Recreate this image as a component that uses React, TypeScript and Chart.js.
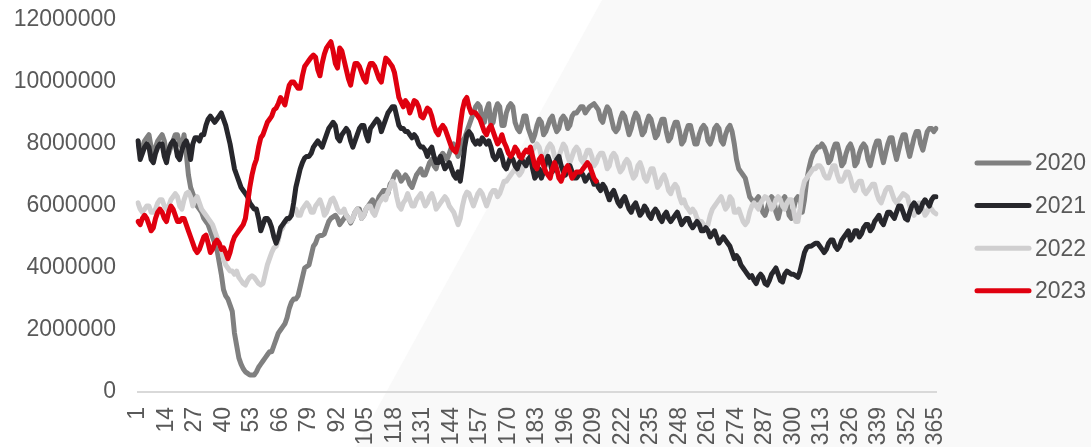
import React, { useEffect, useRef } from "react";
import { Chart, registerables } from "chart.js";

Chart.register(...registerables);

// Day-of-year categories 1..365
const dayLabels: string[] = Array.from({ length: 365 }, (_, i) => String(i + 1));

const seriesNames = ["2020", "2021", "2022", "2023"];
const seriesColors = ["#808080", "#27272c", "#d0cfd0", "#e0000f"];

// Values in millions
const s2020 = [
  8.1, 7.7, 7.9, 8.1, 8.2, 8.3, 7.9,
  7.6, 7.9, 8.1, 8.2, 8.3, 8.1, 7.7,
  7.7, 7.9, 8.1, 8.3, 8.3, 8.0, 7.9,
  8.3, 7.7, 7.0, 6.6, 6.4, 6.2, 6.0,
  5.9, 5.8, 5.6, 5.5, 5.4, 5.2, 5.0,
  4.8, 4.6, 4.2, 3.8, 3.3, 3.1, 3.0,
  2.8, 2.6, 1.9, 1.5, 1.1, 0.9, 0.75,
  0.65, 0.6, 0.55, 0.55, 0.55, 0.65, 0.8,
  0.9, 1.0, 1.1, 1.2, 1.3, 1.3, 1.5,
  1.7, 1.9, 2.0, 2.1, 2.2, 2.4, 2.7,
  2.9, 3.0, 3.0, 3.1, 3.4, 3.7, 4.0,
  4.05, 4.1, 4.4, 4.7, 4.8, 5.0, 5.05,
  5.05, 5.1, 5.3, 5.5, 5.6, 5.65, 5.7,
  5.6, 5.4, 5.5, 5.6, 5.7, 5.6, 5.45,
  5.6, 5.8, 5.9, 5.9, 5.6, 5.7, 5.9,
  6.0, 6.1, 6.2, 5.9, 6.1, 6.3, 6.4,
  6.5, 6.5, 6.4, 6.7, 6.8, 7.0, 7.1,
  7.0, 6.8, 6.9, 7.0, 6.9, 6.7, 6.6,
  6.8, 7.0, 7.1, 7.2, 7.0, 7.0, 7.2,
  7.4, 7.5, 7.3, 7.2, 7.5, 7.6, 7.7,
  7.6, 7.5, 7.7, 7.9, 8.0, 7.8, 7.6,
  7.9, 8.1, 8.2, 8.4, 8.6, 8.8, 9.0,
  9.2, 9.3, 9.2, 8.8, 8.7, 9.1, 9.3,
  8.6, 8.7, 9.1, 9.3, 9.2, 8.6, 8.6,
  9.0, 9.2, 9.3, 9.2, 8.7, 8.5, 8.4,
  8.6, 8.9, 8.9, 8.5, 8.3, 8.1, 8.3,
  8.6, 8.8, 8.7, 8.3, 8.4, 8.6, 8.8,
  8.9, 8.6, 8.4, 8.5, 8.8, 8.9, 8.8,
  8.5, 8.6, 8.9, 9.0, 9.0, 9.1, 9.2,
  9.2, 9.0, 9.1, 9.2, 9.25, 9.3, 9.2,
  9.1, 8.8, 8.7, 9.0, 9.2, 9.1, 8.8,
  8.5, 8.4, 8.5, 8.8, 9.0, 8.9, 8.6,
  8.3, 8.5, 8.8, 9.0, 8.9, 8.6, 8.3,
  8.4, 8.7, 8.9, 8.8, 8.5, 8.2, 8.3,
  8.6, 8.8, 8.8, 8.4, 8.1, 8.2, 8.5,
  8.7, 8.7, 8.4, 8.0, 8.1, 8.4, 8.6,
  8.6, 8.3, 8.0, 8.0, 8.3, 8.5, 8.6,
  8.5, 8.1, 8.0, 8.2, 8.5, 8.6, 8.5,
  8.1, 8.0, 8.3, 8.5, 8.6, 8.4, 8.0,
  7.5, 7.2, 7.1, 7.0, 6.9, 6.6, 6.3,
  6.2, 6.1, 6.2, 6.3, 6.1, 5.8, 5.7,
  5.9, 6.2, 6.3, 6.2, 5.8, 5.6, 5.9,
  6.2, 6.3, 6.1, 5.7, 5.6, 5.9, 6.2,
  6.3, 6.2, 5.8, 6.2, 6.8, 7.2, 7.5,
  7.7, 7.8, 7.9, 7.9, 8.0, 7.9, 7.7,
  7.4, 7.5, 7.8, 8.0, 8.0, 7.7, 7.3,
  7.4, 7.7, 7.9, 8.0, 7.8, 7.3, 7.4,
  7.7, 7.9, 8.0, 7.9, 7.5, 7.3, 7.6,
  7.9, 8.1, 8.1, 7.7, 7.4, 7.7, 8.0,
  8.2, 8.2, 7.8, 7.5, 7.8, 8.1, 8.3,
  8.3, 7.9, 7.6, 7.9, 8.2, 8.4, 8.4,
  8.0, 7.8, 8.1, 8.4, 8.5, 8.5, 8.4,
  8.5,
];

const s2021 = [
  8.1, 7.5, 7.7, 7.9, 8.0, 7.9, 7.5,
  7.4, 7.7, 7.9, 8.0, 8.0, 7.6, 7.4,
  7.8, 8.0, 8.1, 8.0, 7.6, 7.5, 7.8,
  8.0, 8.1, 7.9, 7.5, 8.0, 8.2, 8.2,
  8.1, 8.3, 8.3, 8.6, 8.8, 8.9, 8.8,
  8.7, 8.8, 8.9, 9.0, 8.8, 8.6, 8.3,
  8.0, 7.6, 7.2, 7.0, 6.8, 6.6, 6.5,
  6.4, 6.3, 6.1, 6.0, 5.9, 5.9, 5.6,
  5.2, 5.4, 5.6, 5.6, 5.5, 5.3, 5.0,
  4.8, 5.0, 5.3, 5.4, 5.5, 5.6, 5.6,
  5.7, 6.1, 6.6, 6.9, 7.2, 7.4, 7.55,
  7.6, 7.6, 7.7, 7.9, 8.0, 8.1, 8.0,
  7.9, 8.1, 8.3, 8.5, 8.6, 8.7, 8.6,
  8.2, 8.1, 8.3, 8.4, 8.5, 8.4, 8.1,
  7.9, 8.1, 8.3, 8.5, 8.6, 8.6, 8.3,
  8.1, 8.5, 8.6, 8.7, 8.8, 8.7, 8.4,
  8.6, 8.8, 9.0, 9.1, 9.2, 9.2, 8.9,
  8.6, 8.5, 8.5, 8.4, 8.4, 8.3, 8.2,
  8.3, 8.2, 8.0, 7.9, 7.9, 7.8, 7.6,
  7.8, 7.9, 7.6, 7.4, 7.4, 7.6, 7.4,
  7.2, 7.3, 7.4, 7.2, 7.0, 6.9, 7.1,
  6.8, 7.3, 7.9, 8.3, 8.4, 8.3, 8.1,
  8.0, 8.1, 8.0, 8.2, 8.1, 8.0, 8.1,
  7.9, 7.6, 7.5, 7.6, 7.8, 7.6, 7.3,
  7.2, 7.4, 7.6, 7.5, 7.3, 7.2, 7.4,
  7.5, 7.4, 7.3, 7.5, 7.6, 7.2, 6.9,
  7.0, 7.2, 6.9, 7.1, 7.4, 7.6, 7.4,
  7.1, 7.3, 7.5, 7.6, 7.3, 7.1, 7.0,
  7.2, 7.3, 7.1, 6.9, 6.9, 7.0, 7.1,
  7.0, 6.8, 6.9, 7.0, 6.9, 6.7, 6.8,
  6.6, 6.5, 6.7, 6.6, 6.4, 6.2, 6.4,
  6.5, 6.3, 6.1, 6.0, 6.2, 6.3, 6.1,
  5.9, 5.8, 6.0, 6.1, 5.9, 5.7, 5.8,
  6.0, 5.9, 5.7, 5.6, 5.8, 5.9, 5.8,
  5.6, 5.5, 5.7, 5.8, 5.6, 5.5, 5.6,
  5.7, 5.8, 5.6, 5.4, 5.5, 5.6, 5.6,
  5.4, 5.3, 5.4, 5.5, 5.4, 5.2, 5.2,
  5.3, 5.2, 5.0, 5.1, 5.2, 5.0, 4.8,
  4.9, 5.0, 4.9, 4.8, 4.7, 4.5, 4.3,
  4.4, 4.3, 4.1, 4.0, 3.9, 3.8, 3.7,
  3.75, 3.6, 3.5, 3.7, 3.8, 3.7, 3.5,
  3.45, 3.6, 3.8, 3.9, 4.0, 3.8, 3.6,
  3.55, 3.8, 3.9, 3.85, 3.8, 3.8, 3.75,
  3.7, 3.9, 4.2, 4.5, 4.65, 4.7, 4.7,
  4.75, 4.8, 4.8, 4.7, 4.6, 4.5, 4.6,
  4.8, 4.9, 4.9, 4.7, 4.6, 4.7, 4.9,
  5.0, 5.1, 5.2, 4.9, 5.0, 5.2, 5.2,
  5.0, 5.1, 5.3, 5.4, 5.4, 5.2, 5.3,
  5.5, 5.6, 5.7, 5.5, 5.4, 5.6, 5.8,
  5.8, 5.7, 5.6, 5.8, 6.0, 6.0, 5.8,
  5.6, 5.55, 5.8, 6.0, 6.1, 6.0, 5.8,
  5.9, 6.1, 6.2, 6.1, 6.0, 6.2, 6.3,
  6.3,
];

const s2022 = [
  6.1, 5.9, 5.8, 5.9, 6.0, 6.0, 5.8,
  5.8, 5.9, 6.1, 6.2, 6.2, 6.0, 5.9,
  6.0, 6.2, 6.3, 6.4, 6.3, 6.0, 5.9,
  6.2, 6.4, 6.45, 6.3, 6.0, 6.2, 6.3,
  6.1, 5.9, 5.8, 5.7, 5.6, 5.5, 5.4,
  5.2, 5.0, 4.8, 4.6, 4.3, 4.1, 4.0,
  3.9, 3.9, 3.8, 3.9, 3.7, 3.6, 3.5,
  3.45, 3.6, 3.7, 3.75, 3.7, 3.6, 3.5,
  3.45, 3.5, 3.8, 4.1, 4.3, 4.5, 4.65,
  4.7, 4.9, 5.2, 5.3, 5.5, 5.5, 5.6,
  5.8, 5.9, 5.9, 5.7, 5.7, 5.9, 6.0,
  6.1, 6.0, 5.8, 5.8, 6.0, 6.1, 6.2,
  6.0, 5.7, 5.8, 6.0, 6.2, 6.25, 6.1,
  5.9, 5.8, 5.8, 5.9, 5.7, 5.6, 5.5,
  5.6, 5.8, 5.9, 5.8, 5.6, 5.7, 5.9,
  6.0, 6.0, 5.8, 5.7, 5.9, 6.1, 6.2,
  6.3, 6.2, 6.45, 6.6, 6.8, 6.7, 6.3,
  6.0, 5.9, 6.1, 6.2, 6.4, 6.2, 6.0,
  6.0, 6.2, 6.3, 6.4, 6.2, 6.0, 6.1,
  6.3, 6.4, 6.2, 5.9, 6.0, 6.1, 6.2,
  6.3, 6.2, 6.0, 5.9, 5.8, 5.6, 5.4,
  5.6, 6.0, 6.3, 6.45, 6.4, 6.2, 6.0,
  6.2, 6.4, 6.5, 6.4, 6.2, 6.0, 6.2,
  6.4, 6.5, 6.5, 6.3, 6.4, 6.6, 6.8,
  6.8, 6.9, 7.0, 7.1, 7.2, 7.1, 7.0,
  7.1, 7.3, 7.5, 7.4, 7.6, 7.8, 7.9,
  8.0, 7.9, 7.6, 7.5, 7.7, 7.9, 8.0,
  7.9, 7.6, 7.4, 7.6, 7.8, 8.0, 7.9,
  7.6, 7.4, 7.6, 7.8, 7.9, 7.8, 7.5,
  7.4, 7.6, 7.8, 7.8, 7.6, 7.3, 7.4,
  7.6, 7.7, 7.7, 7.5, 7.2, 7.3, 7.6,
  7.7, 7.6, 7.3, 7.1, 7.2, 7.4, 7.5,
  7.4, 7.1, 6.9, 7.0, 7.3, 7.4, 7.2,
  6.9, 6.8, 7.0, 7.2, 7.2, 6.9, 6.6,
  6.7, 6.9, 7.0, 6.8, 6.5, 6.4, 6.6,
  6.7, 6.6, 6.3, 6.1, 6.2, 6.0, 5.9,
  5.8, 5.9, 5.8, 5.6, 5.5, 5.5, 5.4,
  5.3, 5.4, 5.7, 5.9, 6.0, 6.1, 6.2,
  6.3, 6.1, 5.9, 6.0, 6.3, 6.2, 5.8,
  5.8, 5.9, 5.7, 5.5, 5.4, 5.5, 5.8,
  6.0, 6.1, 6.0, 5.9, 6.1, 6.2, 6.3,
  6.26, 6.1, 5.9, 6.0, 6.2, 6.3, 6.2,
  6.0, 5.9, 6.1, 6.2, 6.2, 5.9, 5.5,
  5.5, 5.9, 6.5, 6.8, 6.9, 7.0, 7.1,
  7.2, 7.2, 7.3, 7.3, 7.2, 7.0, 6.9,
  6.9, 7.1, 7.3, 7.3, 7.0, 6.8, 6.8,
  6.9, 7.1, 7.1, 6.9, 6.6, 6.5, 6.7,
  6.8, 6.8, 6.5, 6.4, 6.5, 6.6, 6.7,
  6.7, 6.4, 6.2, 6.1, 6.3, 6.5, 6.6,
  6.6, 6.4, 6.2, 6.1, 6.2, 6.3, 6.4,
  6.35, 6.3, 6.0, 5.8, 5.7, 5.9, 6.1,
  6.1, 5.9, 5.7, 5.8, 6.0, 5.9, 5.8,
  5.75,
];

const s2023 = [
  5.5, 5.4, 5.6, 5.7, 5.6, 5.4, 5.2,
  5.3, 5.6, 5.8, 5.9, 5.8, 5.6, 5.5,
  5.8, 6.0, 5.9, 5.7, 5.5, 5.5, 5.6,
  5.6, 5.4, 5.2, 5.0, 4.8, 4.6, 4.5,
  4.6, 4.8, 5.0, 5.06, 4.8, 4.5, 4.6,
  4.8, 4.9, 4.8, 4.6, 4.65, 4.5, 4.3,
  4.5, 4.8, 5.0, 5.1, 5.2, 5.3, 5.4,
  5.6, 6.1, 6.6, 7.0, 7.3, 7.5, 7.9,
  8.2, 8.3, 8.5, 8.7, 8.8, 8.9, 9.1,
  9.16, 9.3, 9.5, 9.4, 9.26, 9.6, 9.9,
  10.0, 10.0, 9.9, 9.8, 9.8, 10.2, 10.5,
  10.6, 10.7, 10.8, 10.87, 10.8, 10.4, 10.2,
  10.6, 10.9, 11.1, 11.2, 11.3, 11.0, 10.6,
  10.45, 11.1, 11.0, 10.7, 10.4, 10.1, 9.9,
  10.3, 10.6, 10.6, 10.5, 10.3, 10.1, 10.0,
  10.4, 10.6, 10.6, 10.5, 10.3, 10.1, 10.0,
  10.4, 10.77, 10.7, 10.6, 10.5, 10.3, 9.9,
  9.5, 9.35, 9.2, 9.4, 9.3, 9.0, 9.2,
  9.4, 9.35, 9.2, 8.9, 8.84, 9.0, 9.16,
  9.1, 8.9, 8.6, 8.4, 8.3, 8.5, 8.6,
  8.5, 8.3, 8.1, 7.9, 7.8, 7.74, 8.0,
  8.6, 9.1, 9.4, 9.5, 9.2, 9.0, 9.03,
  9.0, 8.9, 8.8, 8.6, 8.4, 8.3, 8.5,
  8.6, 8.4, 8.2, 8.0, 8.1, 8.3, 8.06,
  7.9, 7.7, 7.6, 7.7, 7.9, 7.8, 7.6,
  7.55, 7.7, 7.8, 7.74, 7.9, 7.6, 7.3,
  7.2, 7.5, 7.6, 7.3, 7.1, 7.0, 6.9,
  7.2, 7.4, 7.2, 6.9, 6.8, 7.0, 7.2,
  7.3, 7.1, 6.9, 7.0, 7.1, 7.1, 7.1,
  7.2, 7.3, 7.4, 7.3, 7.1, 6.9, 6.8,
];

const seriesValues = [s2020, s2021, s2022, s2023];
const drawOrder = [3, 1, 2, 0]; // lower = drawn on top

const yMin = 0;
const yMax = 12000000;
const yStep = 2000000;
const xTickEvery = 13;

const FONT = "'Liberation Sans', Arial, sans-serif";
const TEXT_COLOR = "#595959";

const backgroundPlugin = {
  id: "bgShape",
  beforeDraw(chart: any) {
    const { ctx, width, height } = chart;
    ctx.save();
    ctx.fillStyle = "#ffffff";
    ctx.fillRect(0, 0, width, height);
    ctx.fillStyle = "#f9f9f9";
    ctx.beginPath();
    ctx.moveTo(602, 0);
    ctx.lineTo(width, 0);
    ctx.lineTo(width, height);
    ctx.lineTo(356, height);
    ctx.closePath();
    ctx.fill();
    ctx.restore();
  },
};

const legendPlugin = {
  id: "sideLegend",
  afterDraw(chart: any) {
    const { ctx } = chart;
    ctx.save();
    chart.data.datasets.forEach((ds: any, i: number) => {
      const y = 163 + i * 42.6;
      ctx.strokeStyle = ds.borderColor;
      ctx.lineWidth = 5;
      ctx.lineCap = "round";
      ctx.beginPath();
      ctx.moveTo(977, y);
      ctx.lineTo(1029, y);
      ctx.stroke();
      ctx.fillStyle = TEXT_COLOR;
      ctx.font = `23px ${FONT}`;
      ctx.textBaseline = "middle";
      ctx.textAlign = "left";
      ctx.fillText(ds.label, 1035, y + 1);
    });
    ctx.restore();
  },
};

export default function App() {
  const canvasRef = useRef<HTMLCanvasElement>(null);

  useEffect(() => {
    if (!canvasRef.current) return;
    const chart = new Chart(canvasRef.current, {
      type: "line",
      data: {
        labels: dayLabels,
        datasets: seriesNames.map((name, i) => ({
          label: name,
          data: seriesValues[i].map((v) => v * 1000000),
          borderColor: seriesColors[i],
          backgroundColor: seriesColors[i],
          borderWidth: 5,
          pointRadius: 0,
          tension: 0,
          fill: false,
          borderJoinStyle: "round",
          borderCapStyle: "round",
          order: drawOrder[i],
        })),
      },
      options: {
        responsive: false,
        animation: false,
        devicePixelRatio: 1,
        layout: { padding: { left: 0, right: 155, top: 20, bottom: 0 } },
        plugins: {
          legend: { display: false },
          tooltip: { enabled: false },
        },
        scales: {
          x: {
            type: "category",
            offset: false,
            grid: { display: false, drawTicks: false },
            border: { display: true, color: "#d9d9d9", width: 2 },
            ticks: {
              autoSkip: false,
              maxRotation: 90,
              minRotation: 90,
              padding: 15,
              color: TEXT_COLOR,
              font: { family: FONT, size: 23 },
              callback: (_v: any, i: number) => (i % xTickEvery === 0 ? dayLabels[i] : null),
            },
            afterFit: (s: any) => {
              s.height = 55;
            },
          },
          y: {
            min: yMin,
            max: yMax,
            grid: { display: false, drawTicks: false },
            border: { display: false },
            ticks: {
              stepSize: yStep,
              padding: 22,
              color: TEXT_COLOR,
              font: { family: FONT, size: 23 },
              callback: (v: any) => String(v),
            },
            afterFit: (s: any) => {
              s.width = 138;
              s.paddingTop = 0;
              s.paddingBottom = 0;
            },
          },
        },
      },
      plugins: [backgroundPlugin, legendPlugin],
    } as any);
    return () => chart.destroy();
  }, []);

  return (
    <div style={{ position: "absolute", left: 0, top: 0, width: 1091, height: 447, background: "#fff" }}>
      <canvas ref={canvasRef} width={1091} height={447} style={{ display: "block" }} />
    </div>
  );
}
